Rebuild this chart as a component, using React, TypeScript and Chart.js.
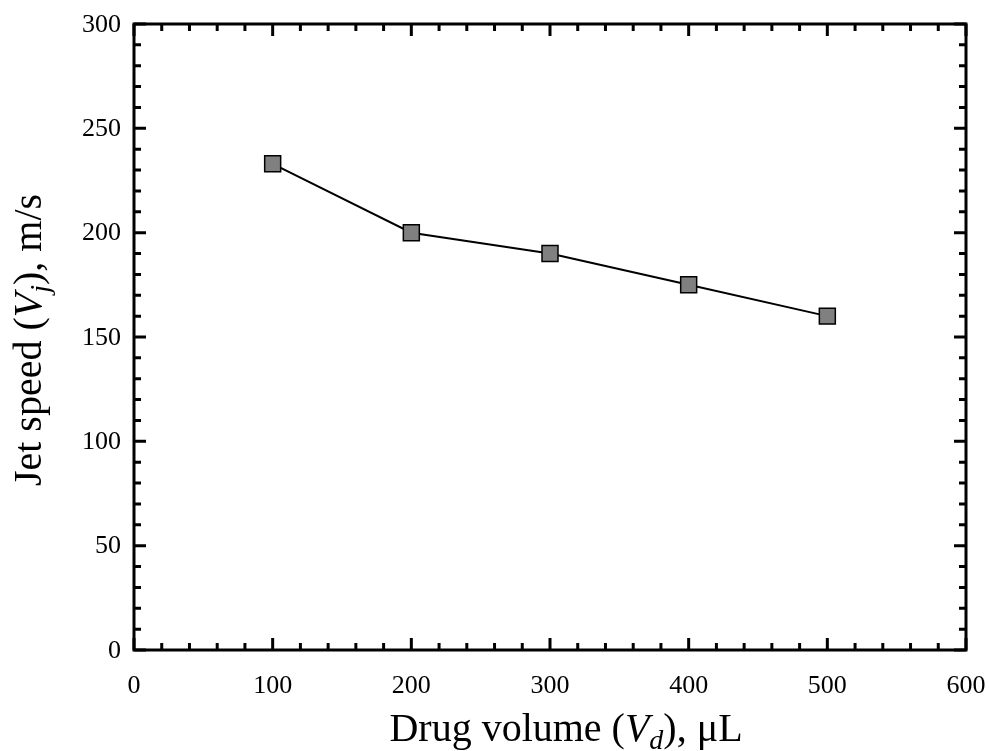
import React, { useEffect, useRef } from "react";
import { Chart, registerables } from "chart.js";

Chart.register(...registerables);

const drugVolume = [100, 200, 300, 400, 500];
const jetSpeed = [233, 200, 190, 175, 160];
const xTickValues = [0, 100, 200, 300, 400, 500, 600];
const yTickValues = [0, 50, 100, 150, 200, 250, 300];
const xMinorStep = 20;
const yMinorStep = 10;

const FONT = '"Liberation Serif", "Times New Roman", serif';
const TICK_SIZE = 26;
const TITLE_SIZE = 40;

type Seg = { t: string; i?: boolean; sub?: boolean };
const xTitle: Seg[] = [
  { t: "Drug volume (" },
  { t: "V", i: true },
  { t: "d", i: true, sub: true },
  { t: "), \u03bcL" },
];
const yTitle: Seg[] = [
  { t: "Jet speed (" },
  { t: "V", i: true },
  { t: "j", i: true, sub: true },
  { t: "), m/s" },
];

function segFont(s: Seg, size: number) {
  const sz = s.sub ? Math.round(size * 0.7) : size;
  return `${s.i ? "italic " : ""}${sz}px ${FONT}`;
}

function drawRich(ctx: CanvasRenderingContext2D, segs: Seg[], cx: number, y: number, size: number) {
  let total = 0;
  const widths = segs.map((s) => {
    ctx.font = segFont(s, size);
    const w = ctx.measureText(s.t).width;
    total += w;
    return w;
  });
  let x = cx - total / 2;
  ctx.textAlign = "left";
  ctx.textBaseline = "alphabetic";
  segs.forEach((s, k) => {
    ctx.font = segFont(s, size);
    ctx.fillText(s.t, x, y + (s.sub ? size * 0.2 : 0));
    x += widths[k];
  });
}

const framePlugin = {
  id: "frame",
  afterDatasetsDraw(chart: any) {
    const ctx: CanvasRenderingContext2D = chart.ctx;
    const xs = chart.scales.x;
    const ys = chart.scales.y;
    const { left, right, top, bottom } = chart.chartArea;
    ctx.save();
    ctx.strokeStyle = "#000";
    ctx.fillStyle = "#000";
    ctx.lineWidth = 3;
    ctx.lineCap = "butt";
    ctx.beginPath();
    ctx.rect(left, top, right - left, bottom - top);
    ctx.stroke();

    const major = 12;
    const minor = 7;
    for (let v = xTickValues[0]; v <= xTickValues[xTickValues.length - 1]; v += xMinorStep) {
      const px = xs.getPixelForValue(v);
      const len = xTickValues.includes(v) ? major : minor;
      ctx.beginPath();
      ctx.moveTo(px, bottom);
      ctx.lineTo(px, bottom - len);
      ctx.moveTo(px, top);
      ctx.lineTo(px, top + len);
      ctx.stroke();
    }
    for (let v = yTickValues[0]; v <= yTickValues[yTickValues.length - 1]; v += yMinorStep) {
      const py = ys.getPixelForValue(v);
      const len = yTickValues.includes(v) ? major : minor;
      ctx.beginPath();
      ctx.moveTo(left, py);
      ctx.lineTo(left + len, py);
      ctx.moveTo(right, py);
      ctx.lineTo(right - len, py);
      ctx.stroke();
    }

    ctx.font = `${TICK_SIZE}px ${FONT}`;
    ctx.textAlign = "center";
    ctx.textBaseline = "middle";
    xTickValues.forEach((v) => {
      ctx.fillText(String(v), xs.getPixelForValue(v), bottom + 36);
    });
    ctx.textAlign = "right";
    yTickValues.forEach((v) => {
      ctx.fillText(String(v), left - 13, ys.getPixelForValue(v) + 1);
    });

    drawRich(ctx, xTitle, (left + right) / 2 + 16, 741, TITLE_SIZE);
    ctx.save();
    ctx.translate(41, (top + bottom) / 2 + 3);
    ctx.rotate(-Math.PI / 2);
    drawRich(ctx, yTitle, 0, 0, TITLE_SIZE);
    ctx.restore();
    ctx.restore();
  },
};

export default function App() {
  const ref = useRef<HTMLCanvasElement | null>(null);
  useEffect(() => {
    document.body.style.margin = "0";
    const canvas = ref.current!;
    const chart = new Chart(canvas, {
      type: "line",
      data: {
        datasets: [
          {
            data: drugVolume.map((x, k) => ({ x, y: jetSpeed[k] })),
            borderColor: "#000",
            borderWidth: 2,
            pointStyle: "rect",
            pointRadius: 11.3,
            pointHoverRadius: 11.3,
            pointBackgroundColor: "#808080",
            pointBorderColor: "#000",
            pointBorderWidth: 1.5,
            tension: 0,
            fill: false,
          },
        ],
      },
      options: {
        animation: false,
        responsive: false,
        maintainAspectRatio: false,
        layout: { padding: { left: 134, right: 23, top: 24, bottom: 101 } },
        plugins: { legend: { display: false }, tooltip: { enabled: false } },
        events: [],
        scales: {
          x: { type: "linear", min: 0, max: 600, display: false },
          y: { type: "linear", min: 0, max: 300, display: false },
        },
      },
      plugins: [framePlugin],
    });
    return () => chart.destroy();
  }, []);
  return (
    <div style={{ width: 989, height: 751, background: "#fff" }}>
      <canvas ref={ref} width={989} height={751} style={{ display: "block" }} />
    </div>
  );
}
